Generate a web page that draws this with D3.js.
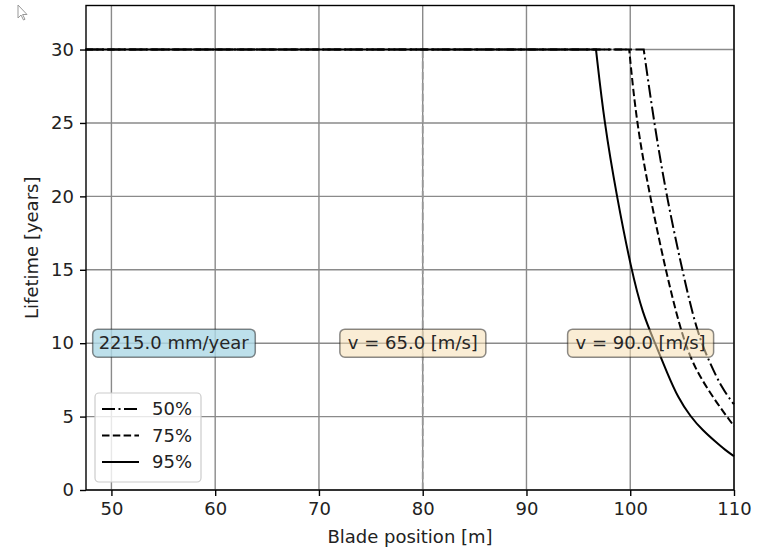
<!DOCTYPE html>
<html>
<head>
<meta charset="utf-8">
<script src="https://cdn.jsdelivr.net/npm/d3@7"></script>
<style>
  body { margin: 0; background: #fff; }
  svg { font-family: "DejaVu Sans", sans-serif; }
</style>
</head>
<body>
<div id="chart"></div>
<script>
// Data
const xTicks = [50, 60, 70, 80, 90, 100, 110];
const yTicks = [0, 5, 10, 15, 20, 25, 30];

// first point of each series is where the flat 30-year plateau starts (left edge)
const series50 = [[47.5, 30], [101.3, 30], [102.3, 25], [103.5, 20], [105.0, 15], [106.4, 10.8],
                  [107.7, 8.6], [108.8, 7.0], [109.8, 6.0], [110, 5.85]];
const series75 = [[47.5, 30], [99.9, 30], [100.6, 25], [101.9, 20], [103.4, 15], [104.8, 11.0],
                  [105.9, 8.8], [107.0, 7.4], [108.0, 6.3], [109.0, 5.3], [110, 4.35]];
const series95 = [[47.5, 30], [96.7, 30], [97.5, 25], [98.7, 20], [100.1, 15], [101.2, 12],
                  [102.4, 10], [103.6, 7.9], [104.6, 6.3], [105.8, 5.0], [107.0, 4.05],
                  [108.2, 3.3], [109.1, 2.75], [110, 2.3]];

const seriesNames = ['50%', '75%', '95%'];
const seriesDash = ['13,3.5,2,3.5', '7.5,3.3', null];

const markerX = 80;      // vertical dashed line
const markerTop = 30;

const labels = [
    { x: 56.0, y: 10, text: '2215.0 mm/year', fill: '#add8e6', op: 0.8 },
    { x: 79.05, y: 10, text: 'v = 65.0 [m/s]', fill: '#f5deb3', op: 0.55 },
    { x: 101.0, y: 10, text: 'v = 90.0 [m/s]', fill: '#f5deb3', op: 0.55 }
];

const W = 761, H = 549;
const margin = { top: 5.5, right: 27, bottom: 59, left: 86 };

const svg = d3.select('#chart').append('svg')
    .attr('width', W).attr('height', H);

const x = d3.scaleLinear().domain([47.55, 110]).range([margin.left, W - margin.right]);
const y = d3.scaleLinear().domain([0, 33]).range([H - margin.bottom, margin.top]);

// mouse cursor left in the screenshot
svg.append('path')
    .attr('d', 'M18,5 L18,18 L21,15 L23.5,20 L25,19.3 L22.6,14.5 L27,14.5 Z')
    .attr('fill', '#fff').attr('stroke', '#999').attr('stroke-width', 1);

// grid
const grid = svg.append('g');
grid.selectAll('.gx').data(xTicks).enter().append('line')
    .attr('x1', d => x(d)).attr('x2', d => x(d))
    .attr('y1', y.range()[0]).attr('y2', y.range()[1])
    .attr('stroke', '#8a8a8a').attr('stroke-width', 1.4);
grid.selectAll('.gy').data(yTicks).enter().append('line')
    .attr('y1', d => y(d)).attr('y2', d => y(d))
    .attr('x1', x.range()[0]).attr('x2', x.range()[1])
    .attr('stroke', '#8a8a8a').attr('stroke-width', 1.4);

// vertical marker
svg.append('line')
    .attr('x1', x(markerX)).attr('x2', x(markerX))
    .attr('y1', y(0)).attr('y2', y(markerTop))
    .attr('stroke', '#999').attr('stroke-width', 1.8)
    .attr('stroke-dasharray', '7.5,3.3');

// curves: sharp corner at the plateau end, smooth decay after it
const flat = d3.line().x(d => x(d[0])).y(d => y(d[1]));
const decay = d3.line().x(d => x(d[0])).y(d => y(d[1])).curve(d3.curveBasis);
[series50, series75, series95].forEach((s, i) => {
    const d = flat(s.slice(0, 2)) + decay(s.slice(1)).replace(/^M[^LC]*/, '');
    svg.append('path')
        .attr('d', d)
        .attr('fill', 'none')
        .attr('stroke', '#000')
        .attr('stroke-width', 2)
        .attr('stroke-linejoin', 'miter')
        .attr('stroke-dasharray', seriesDash[i]);
});

// axes
const xAxis = svg.append('g')
    .attr('transform', `translate(0,${y(0)})`)
    .call(d3.axisBottom(x).tickValues(xTicks).tickSize(6).tickPadding(6));
const yAxis = svg.append('g')
    .attr('transform', `translate(${x.range()[0]},0)`)
    .call(d3.axisLeft(y).tickValues(yTicks).tickSize(6).tickPadding(6));
[xAxis, yAxis].forEach(a => {
    a.select('.domain').remove();
    a.selectAll('text').attr('font-size', 18).attr('fill', '#222')
        .attr('font-family', '"DejaVu Sans", sans-serif');
    a.selectAll('line').attr('stroke', '#000').attr('stroke-width', 1.4);
});

// frame
svg.append('rect')
    .attr('x', x.range()[0]).attr('y', y.range()[1])
    .attr('width', x.range()[1] - x.range()[0])
    .attr('height', y.range()[0] - y.range()[1])
    .attr('fill', 'none').attr('stroke', '#000').attr('stroke-width', 1.4);

// axis labels
svg.append('text')
    .attr('x', (x.range()[0] + x.range()[1]) / 2).attr('y', 543)
    .attr('text-anchor', 'middle').attr('font-size', 18).attr('fill', '#222')
    .text('Blade position [m]');
svg.append('text')
    .attr('transform', `translate(38,${(y.range()[0] + y.range()[1]) / 2}) rotate(-90)`)
    .attr('text-anchor', 'middle').attr('font-size', 18).attr('fill', '#222')
    .text('Lifetime [years]');

// text boxes
labels.forEach(l => {
    const g = svg.append('g');
    const t = g.append('text')
        .attr('x', x(l.x)).attr('y', y(l.y))
        .attr('dy', '0.35em')
        .attr('text-anchor', 'middle').attr('font-size', 18).attr('fill', '#262626')
        .text(l.text);
    const bb = t.node().getBBox();
    const pad = bb.width < 145 ? 8 : 6;
    g.insert('rect', 'text')
        .attr('x', bb.x - pad).attr('y', y(l.y) - 14)
        .attr('width', bb.width + 2 * pad).attr('height', 28)
        .attr('rx', 5)
        .attr('fill', l.fill).attr('fill-opacity', l.op)
        .attr('stroke', '#000').attr('stroke-opacity', 0.45).attr('stroke-width', 1.5);
});

// legend
const leg = svg.append('g');
leg.append('rect')
    .attr('x', 95).attr('y', 393).attr('width', 106).attr('height', 89).attr('rx', 4)
    .attr('fill', '#fff').attr('fill-opacity', 0.8)
    .attr('stroke', '#ccc').attr('stroke-width', 1.2);
seriesNames.forEach((name, i) => {
    const yy = 409 + i * 26.5;
    leg.append('line')
        .attr('x1', 102).attr('x2', 139).attr('y1', yy).attr('y2', yy)
        .attr('stroke', '#000').attr('stroke-width', 2)
        .attr('stroke-dasharray', seriesDash[i]);
    leg.append('text')
        .attr('x', 152).attr('y', yy).attr('dy', '0.35em')
        .attr('font-size', 18).attr('fill', '#222')
        .text(name);
});
</script>
</body>
</html>
